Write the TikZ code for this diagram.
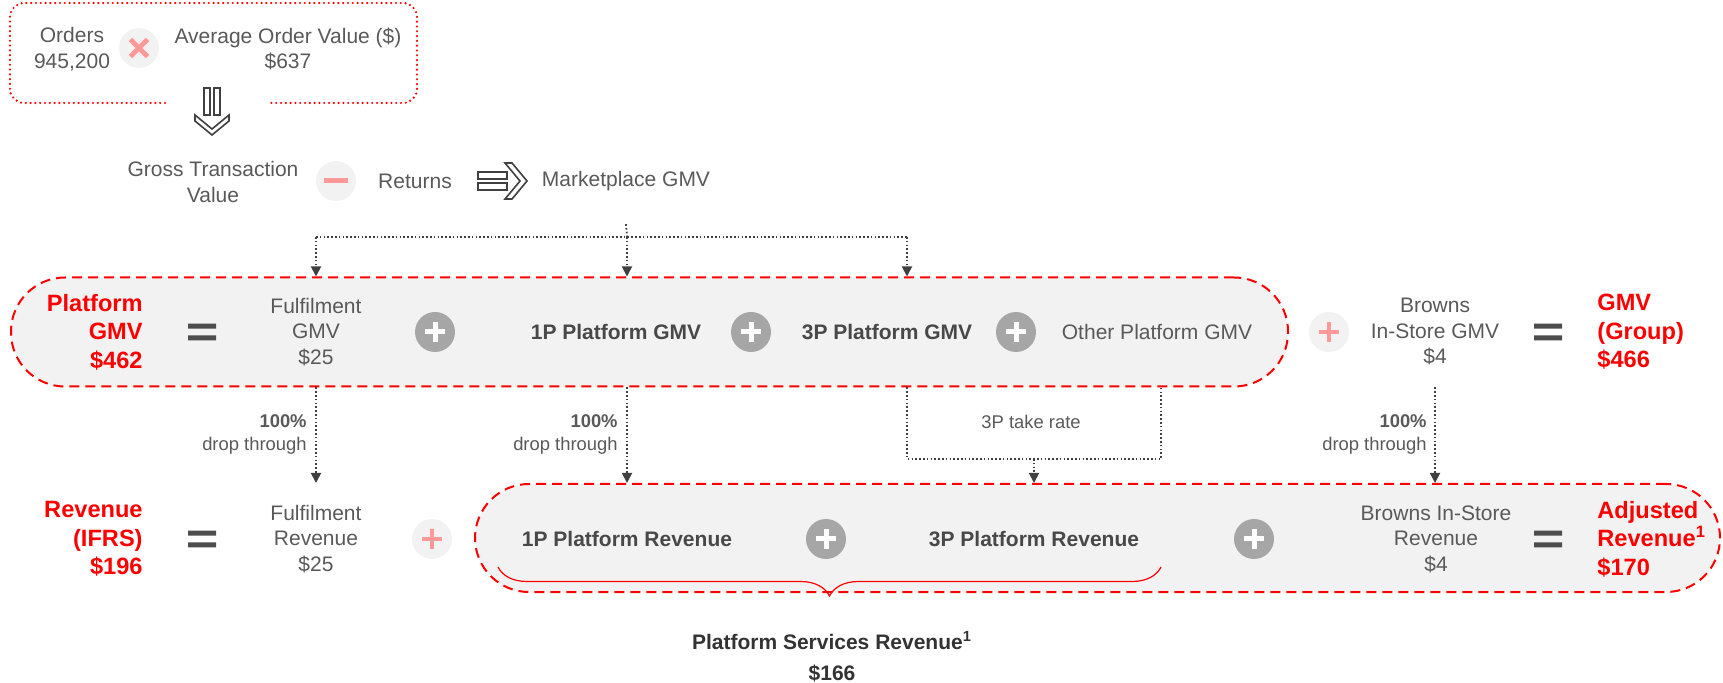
\documentclass[tikz,border=0pt]{standalone}
\usepackage{fontspec}
\setmainfont{Liberation Sans}
\usetikzlibrary{arrows.meta,decorations.pathreplacing}

\definecolor{txtgray}{HTML}{595959}
\definecolor{keygray}{HTML}{484848}
\definecolor{linegray}{HTML}{404040}
\definecolor{fpred}{HTML}{FF0000}
\definecolor{boxfill}{HTML}{F2F2F2}
\definecolor{opgray}{HTML}{A6A6A6}
\definecolor{oppink}{HTML}{FF9999}
\definecolor{eqgray}{HTML}{4D4D4D}

\def\gmvrow{332}
\def\revrow{539}

\begin{document}
\begin{tikzpicture}[x=0.5pt,y=-0.5pt]
		\tikzstyle{lbl}=[text=txtgray,font=\fontsize{10.5}{12.75}\selectfont,align=center,inner sep=0pt]
		\tikzstyle{key}=[lbl,text=keygray,font=\bfseries\fontsize{10.5}{12.75}\selectfont]
		\tikzstyle{total}=[text=fpred,font=\bfseries\fontsize{11.8}{14.2}\selectfont,inner sep=0pt]
		\tikzstyle{drop}=[text=txtgray,font=\fontsize{9.2}{11.5}\selectfont,align=right,anchor=east,inner sep=0pt]
		\tikzstyle{platbox}=[draw=fpred,fill=boxfill,line width=1pt,dash pattern=on 5pt off 3pt,rounded corners=27pt,inner sep=0pt]
		\tikzstyle{flow}=[linegray,line width=0.9pt,dash pattern=on 0.8pt off 1.1pt]
		\tikzstyle{flowto}=[flow,-{Triangle[length=5pt,width=5pt]}]
		\tikzstyle{hollow}=[draw=linegray,fill=white,line width=0.8pt]
		\tikzstyle{op}=[circle,minimum size=20pt,inner sep=0pt]
		\tikzstyle{plus}=[op,fill=opgray,path picture={
			\draw[white,line width=2.5pt] ([xshift=-4.8pt]path picture bounding box.center) -- ([xshift=4.8pt]path picture bounding box.center)
				([yshift=-4.8pt]path picture bounding box.center) -- ([yshift=4.8pt]path picture bounding box.center);}]
		\tikzstyle{plus light}=[op,fill=boxfill,path picture={
			\draw[oppink,line width=2.2pt] ([xshift=-4.8pt]path picture bounding box.center) -- ([xshift=4.8pt]path picture bounding box.center)
				([yshift=-4.8pt]path picture bounding box.center) -- ([yshift=4.8pt]path picture bounding box.center);}]
		\tikzstyle{minus light}=[op,fill=boxfill,path picture={
			\draw[oppink,line width=2.5pt] ([xshift=-5.8pt]path picture bounding box.center) -- ([xshift=5.8pt]path picture bounding box.center);}]
		\tikzstyle{times light}=[op,fill=boxfill,path picture={
			\draw[oppink,line width=2.4pt] ([shift={(-4.3pt,-4.3pt)}]path picture bounding box.center) -- ([shift={(4.3pt,4.3pt)}]path picture bounding box.center)
				([shift={(-4.3pt,4.3pt)}]path picture bounding box.center) -- ([shift={(4.3pt,-4.3pt)}]path picture bounding box.center);}]
		\tikzstyle{eqsign}=[minimum width=14pt,minimum height=9pt,inner sep=0pt,path picture={
			\fill[eqgray] ([shift={(-7pt,1.65pt)}]path picture bounding box.center) rectangle ([shift={(7pt,4.15pt)}]path picture bounding box.center)
				([shift={(-7pt,-4.15pt)}]path picture bounding box.center) rectangle ([shift={(7pt,-1.65pt)}]path picture bounding box.center);}]

		\useasboundingbox (0,0) rectangle (1723,683);

			% Orders times AOV, in a dotted frame open at the bottom
		\draw[fpred,line width=1.2pt,dash pattern=on 0pt off 2.4pt,line cap=round,rounded corners=7pt]
			(165,103) -- (10,103) -- (10,3) -- (417,3) -- (417,103) -- (268,103);
		\node[lbl] (orders) at (72,49) {Orders\\945,200};
		\node[times light] (times) at (139,48) {};
		\node[lbl] (aov) at (288,49) {Average Order Value (\$)\\\$637};

			% Hollow arrow down to GTV
		\begin{scope}[shift={(212,88)}]
			\filldraw[hollow] (-8,0) rectangle (-2,27);
			\filldraw[hollow] (2,0) rectangle (8,27);
			\filldraw[hollow] (-17,27) -- (0,41) -- (17,27) -- (17,33) -- (0,47) -- (-17,33) -- cycle;
		\end{scope}

			% GTV minus returns
		\node[lbl] (gtv) at (213,182) {Gross Transaction\\Value};
		\node[minus light] (minus) at (336,181) {};
		\node[lbl] (returns) at (415,181) {Returns};
		\begin{scope}[shift={(478,181)}]
			\filldraw[hollow] (0,-9) rectangle (29,-2);
			\filldraw[hollow] (0,2) rectangle (29,9);
			\filldraw[hollow] (27,-18) -- (34,-18) -- (49,0) -- (34,18) -- (27,18) -- (42,0) -- cycle;
		\end{scope}
		\node[lbl] (mgmv) at (626,181) {Marketplace GMV};

			% The two dashed boxes
		\node[platbox,minimum width=638.5pt,minimum height=54.5pt] (gmvbox) at (649.5,\gmvrow) {};
		\node[platbox,minimum width=622.5pt,minimum height=54pt] (revbox) at (1097.5,538) {};

			% GMV row
		\node[total,align=right,anchor=east] (pgmv) at (143,\gmvrow) {Platform\\GMV\\\$462};
		\node[eqsign] (eq1) at (202,\gmvrow) {};
		\node[lbl] (fgmv) at (316,\gmvrow) {Fulfilment\\GMV\\\$25};
		\node[key] (gmv1p) at (616,\gmvrow) {1P Platform GMV};
		\node[key] (gmv3p) at (887,\gmvrow) {3P Platform GMV};
		\node[lbl] (ogmv) at (1157,\gmvrow) {Other Platform GMV};
		\foreach \name / \x in {pa/435,pb/751,pc/1016}
		\node[plus] (\name) at (\x,\gmvrow) {};
		\node[plus light] (pd) at (1329,\gmvrow) {};
		\node[lbl] (bgmv) at (1435,\gmvrow) {Browns\\In-Store GMV\\\$4};
		\node[eqsign] (eq2) at (1548,\gmvrow) {};
		\node[total,align=left,anchor=west] (ggmv) at (1597,\gmvrow) {GMV\\(Group)\\\$466};

			% Revenue row
		\node[total,align=right,anchor=east] (rev) at (143,\revrow) {Revenue\\(IFRS)\\\$196};
		\node[eqsign] (eq3) at (202,\revrow) {};
		\node[lbl] (frev) at (316,\revrow) {Fulfilment\\Revenue\\\$25};
		\node[plus light] (pe) at (432,\revrow) {};
		\node[key] (rev1p) at (627,\revrow) {1P Platform Revenue};
		\foreach \name / \x in {pf/826,pg/1254}
		\node[plus] (\name) at (\x,\revrow) {};
		\node[key] (rev3p) at (1034,\revrow) {3P Platform Revenue};
		\node[lbl] (brev) at (1436,\revrow) {Browns In-Store\\Revenue\\\$4};
		\node[eqsign] (eq4) at (1548,\revrow) {};
		\node[total,align=left,anchor=west] (arev) at (1597,\revrow) {Adjusted\\Revenue\textsuperscript{1}\\\$170};

			% Marketplace GMV feeds the platform box
		\coordinate (hub) at (627,237);
		\coordinate (tap3p) at (907,237);
		\draw[flow] ([yshift=-16.5pt]mgmv.south) -- (hub);
		\draw[flow] (hub -| fgmv) -- (tap3p);
		\foreach \t in {fgmv,hub,tap3p}
		\draw[flowto] (\t |- hub) -- (\t |- gmvbox.north);

			% Drop through to revenue
		\coordinate (take) at (907,459);
		\coordinate (takeo) at (1161,459);
		\coordinate (takemid) at (1034,459);
		\foreach \t in {fgmv,hub,bgmv}
		\draw[flowto] (gmvbox.south -| \t) -- (revbox.north -| \t);
		\draw[flow] (gmvbox.south -| take) -- (take) -- (takeo) -- (gmvbox.south -| takeo);
		\draw[flowto] (takemid) -- (revbox.north -| takemid);

		\node[drop] (d1) at (307,434) {\textbf{100\%}\\drop through};
		\node[drop] (d2) at (618,434) {\textbf{100\%}\\drop through};
		\node[drop] (d3) at (1427,434) {\textbf{100\%}\\drop through};
		\node[drop,anchor=center,align=center] (d4) at (1031,422) {3P take rate};

			% Platform services brace
		\draw[fpred,line width=0.6pt,decorate,decoration={brace,mirror,amplitude=14.5pt}] (498,567) -- (1161,567);
		\node[key,text=black!80,font=\bfseries\fontsize{10.5}{15.5}\selectfont] (psr) at (832,657) {Platform Services Revenue\textsuperscript{1}\\\$166};
\end{tikzpicture}
\end{document}
